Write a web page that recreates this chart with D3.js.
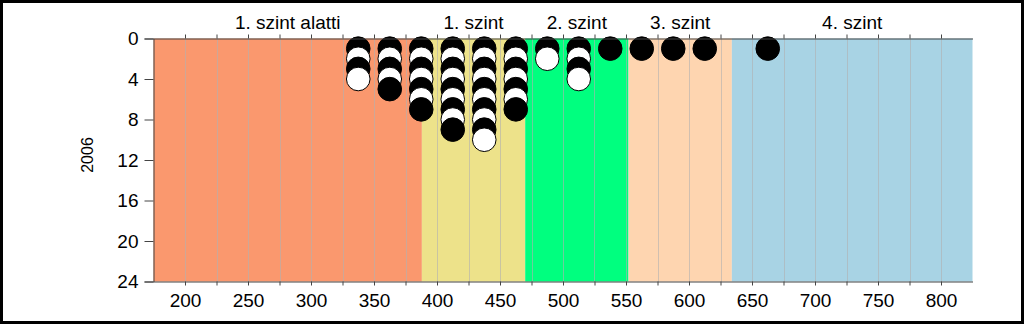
<!DOCTYPE html>
<html>
<head>
<meta charset="utf-8">
<script src="https://cdn.jsdelivr.net/npm/d3@7"></script>
<style>
  html, body { margin: 0; padding: 0; background: #fff; }
  svg { display: block; }
  text { font-family: "Liberation Sans", Arial, sans-serif; fill: #000; }
</style>
</head>
<body>
<svg id="chart" width="1024" height="324"></svg>
<script>
// ---- data ----
const binCenters = [337.5, 362.5, 387.5, 412.5, 437.5, 462.5, 487.5, 512.5, 537.5, 562.5, 587.5, 612.5, 662.5];
const counts     = [4, 5, 7, 9, 10, 7, 2, 4, 1, 1, 1, 1, 1];
const bandEdges  = [175, 388, 470, 552, 634, 825];
const bandLabels = ["1. szint alatti", "1. szint", "2. szint", "3. szint", "4. szint"];
const bandColors = ["#fa986e", "#ede28a", "#00ff7f", "#fed5b0", "#a8d3e4"];
const yTicks     = [0, 4, 8, 12, 16, 20, 24];
const xLabelTicks = [200, 250, 300, 350, 400, 450, 500, 550, 600, 650, 700, 750, 800];
const xMinorTicks = [200, 225, 250, 275, 300, 325, 350, 375, 400, 425, 450, 475, 500, 525, 550, 575, 600, 625, 650, 675, 700, 725, 750, 775, 800];
const yLabel = "2006";

// ---- layout ----
const svg = d3.select("#chart");
const W = 1024, H = 324;
const L = 153.5, R = 972.5, T = 38.5, B = 281.5;

const x = d3.scaleLinear().domain([175, 825]).range([L, R]);
const y = d3.scaleLinear().domain([0, 24]).range([T, B]);

// outer frame
svg.append("rect").attr("x", 1.5).attr("y", 1.5).attr("width", W - 3).attr("height", H - 3)
  .attr("fill", "#fff").attr("stroke", "#000").attr("stroke-width", 3);

// bands
const bands = bandLabels.map((lab, i) => ({ lab, x0: bandEdges[i], x1: bandEdges[i + 1], c: bandColors[i] }));
svg.append("g").selectAll("rect").data(bands).join("rect")
  .attr("x", d => x(d.x0)).attr("width", d => x(d.x1) - x(d.x0))
  .attr("y", T).attr("height", B - T)
  .attr("fill", d => d.c);

// gridlines
svg.append("g").selectAll("line").data(xMinorTicks).join("line")
  .attr("x1", d => Math.round(x(d)) + 0.5).attr("x2", d => Math.round(x(d)) + 0.5)
  .attr("y1", T).attr("y2", B)
  .attr("stroke", "#b0b0b0").attr("stroke-opacity", 0.6).attr("stroke-width", 1);

// band labels
svg.append("g").selectAll("text").data(bands).join("text")
  .attr("x", d => (x(d.x0) + x(d.x1)) / 2).attr("y", 29)
  .attr("text-anchor", "middle").attr("font-size", 19)
  .text(d => d.lab);

// dots
const dots = [];
binCenters.forEach((c, i) => {
  for (let k = 1; k <= counts[i]; k++) dots.push({ c, k });
});
svg.append("g").selectAll("circle").data(dots).join("circle")
  .attr("cx", d => x(d.c)).attr("cy", d => y(d.k)).attr("r", 11.8)
  .attr("fill", d => d.k % 2 === 1 ? "#000" : "#fff")
  .attr("stroke", "#000").attr("stroke-width", 1);

// axes
const axisColor = "#444";
const yAxis = svg.append("g").attr("transform", `translate(${L},0)`)
  .call(d3.axisLeft(y).tickValues(yTicks).tickSize(9).tickPadding(6).tickFormat(d3.format("d")));
yAxis.selectAll("text").attr("font-size", 19).style("font-family", "Liberation Sans, Arial, sans-serif");

const xAxisB = svg.append("g").attr("transform", `translate(0,${B})`)
  .call(d3.axisBottom(x).tickValues(xMinorTicks).tickSize(4).tickSizeOuter(0)
    .tickFormat(d => xLabelTicks.includes(d) ? d3.format("d")(d) : ""));
xAxisB.selectAll("text").attr("font-size", 19).attr("dy", "0.95em").style("font-family", "Liberation Sans, Arial, sans-serif");

const xAxisT = svg.append("g").attr("transform", `translate(0,${T})`)
  .call(d3.axisTop(x).tickValues(xMinorTicks).tickSize(4).tickSizeOuter(0).tickFormat(""));

[yAxis, xAxisB, xAxisT].forEach(g => {
  g.selectAll("path").attr("stroke", axisColor);
  g.selectAll("line").attr("stroke", axisColor);
});

// y label
svg.append("text").attr("transform", "translate(93,155) rotate(-90)")
  .attr("text-anchor", "middle").attr("font-size", 16).text(yLabel);
</script>
</body>
</html>
